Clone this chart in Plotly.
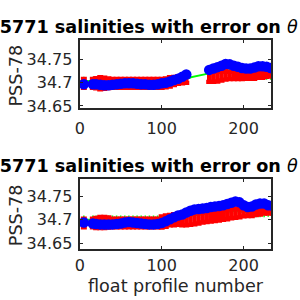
import plotly.graph_objects as go

# ---------------- data ----------------
# top panel (first theta level)
prof_top = [5, 16, 20, 25, 30, 35, 40, 45, 50, 55, 60, 65, 70, 75, 80, 85, 90, 95, 100, 105,
            110, 115, 120, 125, 130,
            158, 163, 168, 173, 178, 183, 188, 193, 198, 203, 208, 213, 218, 223, 228, 233, 236]
sal_top = [34.697, 34.697, 34.697, 34.696, 34.695, 34.695, 34.696, 34.697, 34.698, 34.699,
           34.699, 34.699, 34.698, 34.697, 34.697, 34.696, 34.696, 34.697, 34.699, 34.700,
           34.703, 34.706, 34.709, 34.713, 34.718,
           34.728, 34.731, 34.734, 34.737, 34.741, 34.740, 34.737, 34.735, 34.732, 34.731,
           34.731, 34.733, 34.736, 34.736, 34.735, 34.732, 34.731]
map_top = [34.699, 34.699, 34.699, 34.699, 34.699, 34.699, 34.699, 34.699, 34.699, 34.699,
           34.699, 34.699, 34.699, 34.699, 34.699, 34.699, 34.699, 34.699, 34.699, 34.700,
           34.702, 34.704, 34.706, 34.707, 34.708,
           34.713, 34.713, 34.714, 34.715, 34.716, 34.716, 34.716, 34.716, 34.716, 34.716,
           34.716, 34.716, 34.717, 34.717, 34.718, 34.718, 34.718]
err_top = [0.0095, 0.0095, 0.011, 0.013, 0.012, 0.0105, 0.0095, 0.0095, 0.0095, 0.0095,
           0.0095, 0.0095, 0.0095, 0.0095, 0.0095, 0.0095, 0.0095, 0.0095, 0.0095, 0.0095,
           0.010, 0.009, 0.008, 0.008, 0.008,
           0.011, 0.011, 0.011, 0.010, 0.009, 0.008, 0.008, 0.008, 0.008, 0.007,
           0.007, 0.007, 0.006, 0.006, 0.005, 0.004, 0.004]
cal_top = [34.704, 34.704, 34.703, 34.703, 34.703, 34.703, 34.703, 34.703, 34.703, 34.703,
           34.703, 34.703, 34.703, 34.703, 34.703, 34.703, 34.703, 34.703, 34.703, 34.704,
           34.705, 34.706, 34.708, 34.709, 34.710,
           34.7205, 34.721, 34.722, 34.723, 34.723, 34.722, 34.721, 34.720, 34.719, 34.718,
           34.718, 34.717, 34.717, 34.716, 34.716, 34.716, 34.716]

# bottom panel (second theta level)
prof_bot = [5, 16, 20, 25, 30, 35, 40, 45, 50, 55, 60, 65, 70, 75, 80, 85, 90, 95, 100, 105,
            110, 115, 120, 125, 130, 135, 140, 145, 150, 155, 160, 165, 170, 175, 180, 185,
            190, 195, 200, 205, 210, 215, 220, 225, 230, 236]
sal_bot = [34.694, 34.692, 34.691, 34.690, 34.6895, 34.6895, 34.690, 34.691, 34.692, 34.694,
           34.695, 34.694, 34.693, 34.692, 34.691, 34.690, 34.690, 34.691, 34.693, 34.6965,
           34.701, 34.705, 34.709, 34.711, 34.7155, 34.719, 34.722, 34.723, 34.724, 34.725,
           34.727, 34.728, 34.729, 34.731, 34.7335, 34.736, 34.739, 34.737, 34.731, 34.727,
           34.728, 34.7325, 34.7345, 34.7345, 34.731, 34.729]
map_bot = [34.693, 34.693, 34.693, 34.694, 34.694, 34.694, 34.693, 34.693, 34.693, 34.693,
           34.693, 34.693, 34.693, 34.693, 34.693, 34.693, 34.693, 34.693, 34.695, 34.697,
           34.699, 34.700, 34.701, 34.701, 34.702, 34.703, 34.704, 34.705, 34.706, 34.707,
           34.708, 34.709, 34.710, 34.711, 34.712, 34.713, 34.714, 34.714, 34.715, 34.715,
           34.715, 34.716, 34.716, 34.717, 34.717, 34.717]
err_bot = [0.009, 0.009, 0.011, 0.012, 0.012, 0.011, 0.009, 0.009, 0.009, 0.009,
           0.009, 0.009, 0.009, 0.009, 0.009, 0.009, 0.009, 0.009, 0.012, 0.012,
           0.011, 0.012, 0.012, 0.013, 0.014, 0.014, 0.014, 0.013, 0.012, 0.012,
           0.012, 0.012, 0.012, 0.011, 0.011, 0.010, 0.010, 0.009, 0.008, 0.007,
           0.007, 0.006, 0.005, 0.004, 0.004, 0.004]
cal_bot = [34.700, 34.700, 34.700, 34.700, 34.700, 34.700, 34.700, 34.700, 34.700, 34.700,
           34.700, 34.700, 34.700, 34.700, 34.700, 34.700, 34.700, 34.700, 34.700, 34.701,
           34.702, 34.703, 34.705, 34.706, 34.708, 34.709, 34.710, 34.711, 34.712, 34.713,
           34.714, 34.715, 34.716, 34.717, 34.717, 34.718, 34.718, 34.718, 34.717, 34.716,
           34.716, 34.714, 34.714, 34.714, 34.715, 34.715]

x_tickvals = [0, 100, 200]
x_ticktext = ["0", "100", "200"]
y_tickvals = [34.65, 34.70, 34.75]
y_ticktext = ["34.65", "34.7", "34.75"]

title_text = "5905771 salinities with error on <i>θ</i>"
ylabel = "PSS-78"
xlabel = "float profile number"

# ---------------- figure ----------------
INK = "#262626"
FONT = "DejaVu Sans"
fig = go.Figure()


def add_panel(prof, sal, mapped, err, cal, xa, ya):
    # green calibrated line with small crosses
    fig.add_trace(go.Scatter(
        x=prof, y=cal, xaxis=xa, yaxis=ya, mode="lines+markers",
        line=dict(color="#00ff00", width=2),
        marker=dict(symbol="cross-thin", size=6, line=dict(color="#00ff00", width=1.5)),
        showlegend=False, hoverinfo="skip"))
    # red mapped salinity with errorbars
    fig.add_trace(go.Scatter(
        x=prof, y=mapped, xaxis=xa, yaxis=ya, mode="markers",
        marker=dict(size=3, color="#ff0000"),
        error_y=dict(type="data", array=err, visible=True, color="#ff0000",
                     thickness=4.4, width=3),
        showlegend=False, hoverinfo="skip"))
    # blue float salinity
    fig.add_trace(go.Scatter(
        x=prof, y=sal, xaxis=xa, yaxis=ya, mode="markers",
        marker=dict(size=10.5, color="#0000ff", line=dict(width=0)),
        showlegend=False, hoverinfo="skip"))


add_panel(prof_top, sal_top, map_top, err_top, cal_top, "x", "y")
add_panel(prof_bot, sal_bot, map_bot, err_bot, cal_bot, "x2", "y2")

W = H = 300.0


def px_x(p):
    return p / W


def px_y(p):
    return 1 - p / H


axis_common = dict(
    showline=True, linecolor=INK, linewidth=2.3, mirror="ticks",
    ticks="inside", ticklen=3, tickwidth=1.3, tickcolor=INK,
    showgrid=False, zeroline=False,
    tickfont=dict(family=FONT, size=16, color=INK),
)

xdom = [px_x(76), px_x(271)]
fig.update_layout(
    width=300, height=300,
    margin=dict(l=0, r=0, t=0, b=0),
    paper_bgcolor="white", plot_bgcolor="white",
    xaxis=dict(domain=xdom, anchor="y", range=[0, 234], ticklabelstandoff=4,
               tickvals=x_tickvals, ticktext=x_ticktext, **axis_common),
    yaxis=dict(domain=[px_y(111), px_y(41)], anchor="x", range=[34.6447, 34.7926],
               ticklabelstandoff=2,
               tickvals=y_tickvals, ticktext=y_ticktext, **axis_common),
    xaxis2=dict(domain=xdom, anchor="y2", range=[0, 234], ticklabelstandoff=1,
                tickvals=x_tickvals, ticktext=x_ticktext, **axis_common),
    yaxis2=dict(domain=[px_y(254.8), px_y(183.3)], anchor="x2", range=[34.6378, 34.7868],
                ticklabelstandoff=2,
                tickvals=y_tickvals, ticktext=y_ticktext, **axis_common),
)

annots = []
for yc in (27.5, 169.5):
    annots.append(dict(text="<b>" + title_text.replace("<i>θ</i>", "</b><i>θ</i><b>") + "</b>",
                       xref="paper", yref="paper", x=1.0, y=px_y(yc),
                       xanchor="right", yanchor="middle", showarrow=False,
                       font=dict(family=FONT, size=17.6, color="black")))
for yc in (77, 220):
    annots.append(dict(text=ylabel, xref="paper", yref="paper", x=px_x(11.5), y=px_y(yc),
                       xanchor="center", yanchor="middle", textangle=-90, showarrow=False,
                       font=dict(family=FONT, size=17.6, color=INK)))
annots.append(dict(text=xlabel, xref="paper", yref="paper", x=px_x(174), y=-0.012,
                   xanchor="center", yanchor="bottom", showarrow=False, borderpad=0,
                   font=dict(family=FONT, size=17.6, color=INK)))
fig.update_layout(annotations=annots)

fig.write_html("out.html")
